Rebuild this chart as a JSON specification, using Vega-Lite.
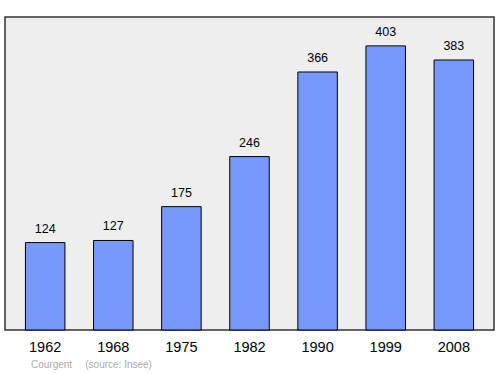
{
  "$schema": "https://vega.github.io/schema/vega-lite/v6.json",
  "width": 489,
  "height": 313,
  "autosize": {"type": "none"},
  "padding": {"left": 5, "top": 17, "right": 6, "bottom": 44},
  "background": "white",
  "data": {"values": [
    {"year": "1962", "pop": 124},
    {"year": "1968", "pop": 127},
    {"year": "1975", "pop": 175},
    {"year": "1982", "pop": 246},
    {"year": "1990", "pop": 366},
    {"year": "1999", "pop": 403},
    {"year": "2008", "pop": 383}
  ]},
  "title": {
    "text": "Courgent\u00a0\u00a0\u00a0\u00a0\u2009(source: Insee)",
    "orient": "bottom",
    "anchor": "start",
    "dx": 26,
    "offset": 6,
    "font": "Liberation Sans",
    "fontSize": 10,
    "fontWeight": "normal",
    "color": "#aaaaaa"
  },
  "config": {
    "view": {"fill": "#eeeeee", "stroke": "#333333", "strokeWidth": 1.5}
  },
  "encoding": {
    "x": {
      "field": "year", "type": "nominal", "sort": null,
      "scale": {"paddingInner": 0.42, "paddingOuter": 0.3},
      "axis": {"title": null, "labelAngle": 0, "ticks": false, "domain": false,
               "labelFont": "Liberation Sans", "labelFontSize": 14.5, "labelColor": "#000000",
               "labelPadding": 10}
    },
    "y": {
      "field": "pop", "type": "quantitative",
      "scale": {"domain": [0, 444], "nice": false},
      "axis": null
    }
  },
  "layer": [
    {"mark": {"type": "bar", "fill": "#7799ff", "stroke": "#000000", "strokeWidth": 1, "cornerRadius": 0}},
    {"mark": {"type": "text", "baseline": "alphabetic", "dy": -10, "font": "Liberation Sans", "fontSize": 12.5, "color": "#000000"},
     "encoding": {"text": {"field": "pop", "type": "quantitative"}}}
  ]
}
